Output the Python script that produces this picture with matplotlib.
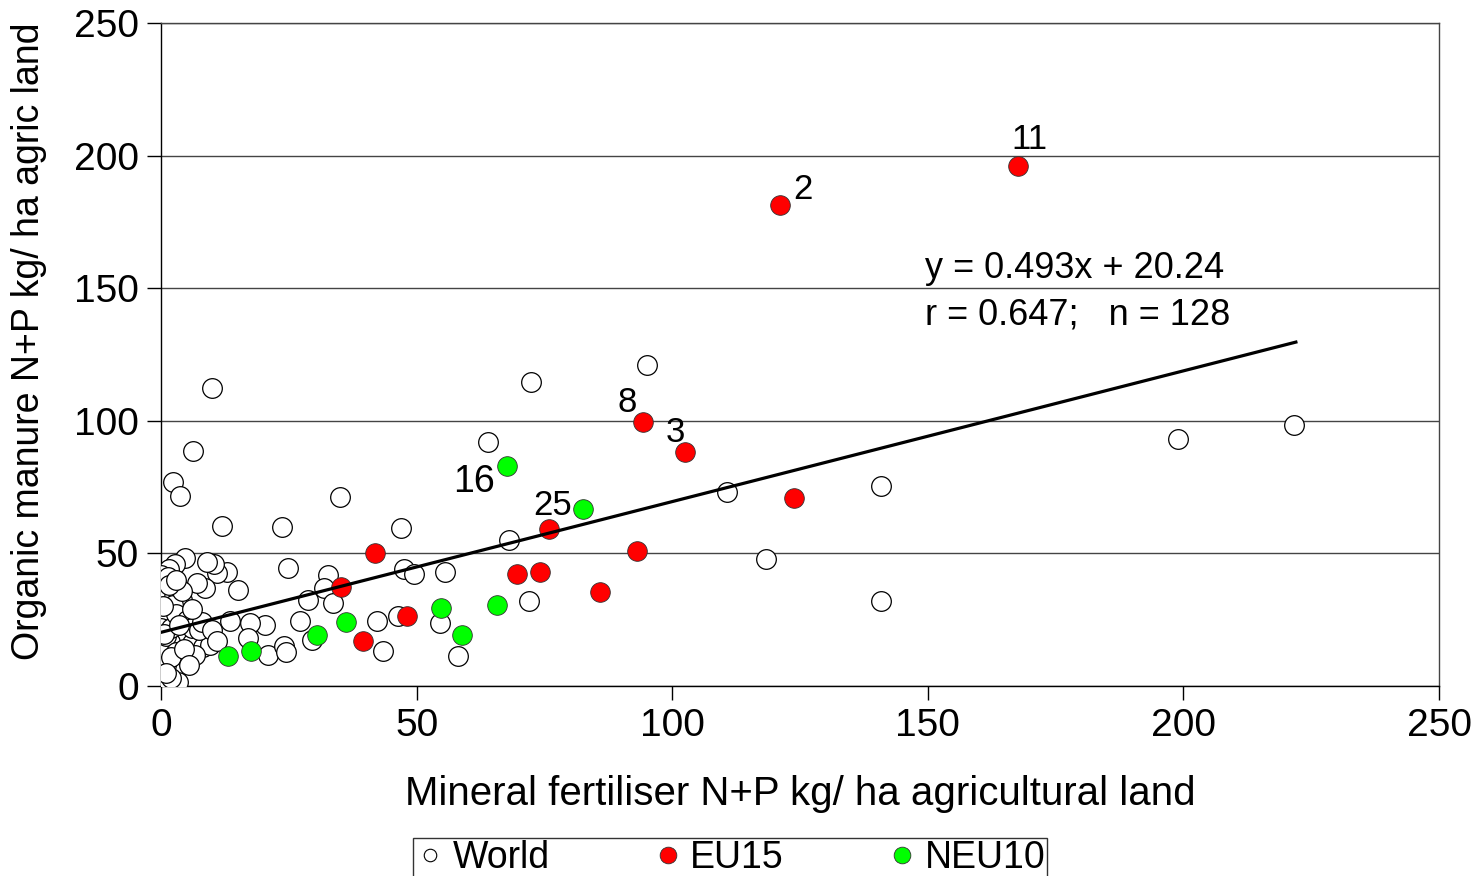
import numpy as np
import matplotlib.pyplot as plt
from matplotlib.lines import Line2D

plt.rcParams['font.family'] = ['Liberation Sans', 'DejaVu Sans']

# World countries (x = mineral fertiliser, y = organic manure)
world_x = [95.1, 72.4, 10.0, 64.0, 6.3, 198.9, 221.6, 140.8, 110.7, 2.3,
           3.7, 35.0, 11.9, 23.7, 46.9, 68.1, 118.4, 140.8, 72.0, 55.6,
           47.5, 49.5, 32.7, 24.8, 31.9, 28.8, 33.6, 54.6, 42.3, 46.4,
           27.2, 29.5, 43.4, 58.1, 20.3, 17.4, 17.0, 20.9, 24.1, 24.5,
           15.1, 13.5, 12.9, 11.0, 10.4, 9.0, 8.6, 7.0, 4.7, 2.7,
           1.6, 0.0, 1.4, 0.2, 0.8, 2.5, 4.1, 2.3, 0.0, 0.2,
           1.2, 0.0, 3.3, 5.1, 7.0, 9.0, 0.0, 1.8, 6.1, 8.2,
           9.6, 4.7, 6.6, 0.0, 0.8, 0.0, 2.7, 0.2, 1.8, 0.0,
           3.3, 0.5, 1.0, 2.0, 3.0, 4.0, 5.0, 3.0, 6.0, 1.0,
           2.0, 0.3, 4.5, 7.5, 1.5, 3.0, 0.5, 5.5, 2.0, 1.0,
           8.0, 10.0, 6.0, 3.5, 11.0]
world_y = [121.0, 114.6, 112.4, 92.0, 88.6, 93.1, 98.4, 75.4, 73.2, 76.9,
           71.6, 71.3, 60.3, 60.0, 59.6, 55.1, 47.9, 32.1, 32.1, 43.0,
           44.1, 42.2, 41.9, 44.5, 37.0, 32.4, 31.3, 23.8, 24.5, 26.4,
           24.5, 17.3, 13.2, 11.3, 23.0, 23.8, 18.1, 11.7, 15.1, 12.8,
           36.2, 24.5, 43.0, 42.6, 46.0, 46.8, 37.0, 38.8, 48.3, 46.0,
           44.0, 42.0, 41.0, 35.0, 33.2, 33.6, 32.4, 30.5, 28.7, 26.8,
           24.1, 21.9, 18.5, 18.5, 18.5, 19.2, 16.2, 16.6, 16.2, 14.7,
           15.5, 10.9, 11.7, 11.7, 9.0, 6.0, 5.3, 3.4, 1.5, 1.1,
           1.5, 14.0, 19.0, 22.0, 27.0, 36.0, 25.0, 13.0, 22.0, 8.0,
           11.0, 30.0, 14.0, 21.0, 38.0, 40.0, 19.5, 8.0, 3.0, 5.0,
           24.0, 21.0, 29.0, 23.0, 17.0]

# EU15
eu15_x = [167.6, 121.1, 94.3, 102.5, 123.8, 75.9, 93.1, 41.9, 69.6, 74.1,
          35.2, 85.9, 48.1, 39.5]
eu15_y = [196.1, 181.4, 99.5, 88.2, 70.9, 59.2, 50.9, 50.2, 42.2, 43.0,
          37.3, 35.4, 26.4, 17.0]

# NEU10
neu10_x = [67.7, 82.6, 54.8, 65.7, 36.2, 58.9, 30.5, 17.6, 13.1]
neu10_y = [83.0, 66.7, 29.4, 30.5, 24.1, 19.2, 19.2, 13.2, 11.3]

# labelled countries: (x, y, label, offset px, fontsize)
labels = [(167.6, 196.1, '11', (12, 26), 25),
          (121.1, 181.4, '2', (23, 15), 25),
          (94.3, 99.5, '8', (-16, 20), 25),
          (102.5, 88.2, '3', (-10, 20), 25),
          (67.7, 83.0, '16', (-33, -16), 27),
          (82.6, 66.7, '25', (-31, 4), 25)]

slope, intercept = 0.493, 20.24
fit_x = np.array([0, 222])

fig = plt.figure(figsize=(14.75, 8.76), dpi=100)
ax = fig.add_axes([0.1092, 0.2169, 0.9756 - 0.1092, 0.9737 - 0.2169])

ax.set_xlim(0, 250)
ax.set_ylim(0, 250)
ax.set_xticks(range(0, 251, 50))
ax.set_yticks(range(0, 251, 50))
ax.yaxis.grid(True, color='#444444', linewidth=1.0)
ax.set_axisbelow(True)
ax.tick_params(axis='both', labelsize=28, length=10, width=1, direction='out', pad=6)
for s in ax.spines.values():
    s.set_linewidth(1.0)
    s.set_color('#444444')
ax.spines['left'].set_color('black')
ax.spines['bottom'].set_color('black')

ms = 200
ax.scatter(world_x, world_y, s=ms, c='white', edgecolors='black', linewidths=0.9, zorder=3)
ax.scatter(eu15_x, eu15_y, s=ms, c='#ff0000', edgecolors='#333333', linewidths=0.6, zorder=4)
ax.scatter(neu10_x, neu10_y, s=ms, c='#00ff00', edgecolors='#333333', linewidths=0.6, zorder=4)
ax.plot(fit_x, slope * fit_x + intercept, color='black', linewidth=2.3, zorder=5)

for x, y, t, off, fs in labels:
    ax.annotate(t, (x, y), xytext=off, textcoords='offset pixels',
                ha='center', va='center', fontsize=fs, zorder=6)

ax.text(0.598, 0.630, 'y = 0.493x + 20.24', transform=ax.transAxes, fontsize=26, va='center')
ax.text(0.598, 0.559, 'r = 0.647;   n = 128', transform=ax.transAxes, fontsize=26, va='center')

ax.set_xlabel('Mineral fertiliser N+P kg/ ha agricultural land', fontsize=29, labelpad=22)
ax.set_ylabel('Organic manure N+P kg/ ha agric land', fontsize=27)
ax.yaxis.set_label_coords(-0.089, 0.52)

handles = [Line2D([], [], marker='o', ls='', markersize=9, markerfacecolor='white', markeredgecolor='black', markeredgewidth=0.8),
           Line2D([], [], marker='o', ls='', markersize=12, markerfacecolor='#ff0000', markeredgecolor='#333333', markeredgewidth=0.6),
           Line2D([], [], marker='o', ls='', markersize=12, markerfacecolor='#00ff00', markeredgecolor='#333333', markeredgewidth=0.6)]
leg = fig.legend(handles, ['World', 'EU15', 'NEU10'], ncol=3, loc='upper left',
                 bbox_to_anchor=(413 / 1475, 1 - 838 / 876), borderaxespad=0,
                 fontsize=27, frameon=True, fancybox=False, edgecolor='black',
                 handletextpad=0.2, columnspacing=2.75, borderpad=0.05, handlelength=0.8)
leg.get_frame().set_linewidth(1.0)

fig.savefig('out.png', dpi=100)
